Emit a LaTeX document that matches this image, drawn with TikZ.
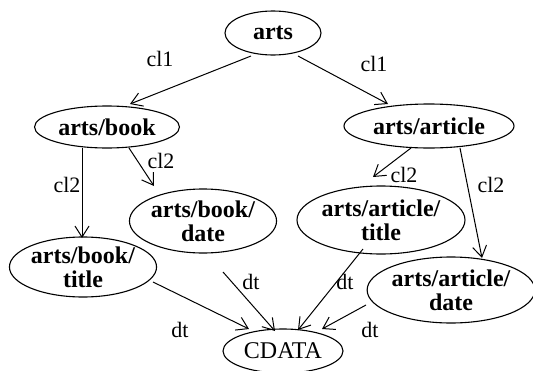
\documentclass[tikz,border=0pt]{standalone}
\usepackage{fontspec}
\setmainfont{Liberation Serif}
\usetikzlibrary{shapes.geometric,arrows.meta}
\begin{document}
\begin{tikzpicture}[x=1pt,y=-1pt,
  nd/.style={draw, ellipse, line width=1.1pt, inner sep=0pt, outer sep=0pt, align=center,
    font=\fontsize{24}{24}\selectfont\bfseries},
  cd/.style={draw, ellipse, line width=1.1pt, inner sep=0pt, outer sep=0pt,
    font=\fontsize{24}{24}\selectfont},
  lbl/.style={font=\fontsize{22}{22}\selectfont, inner sep=0pt},
  arr/.style={line width=1pt, -{Straight Barb[length=11pt,width=14pt,line width=1pt]}}]
\useasboundingbox (0,0) rectangle (533,370);
% nodes
\node[nd, minimum width=96pt, minimum height=44pt] (arts) at (273,33) {arts};
\node[nd, minimum width=145pt, minimum height=42pt] (book) at (107,127) {arts/book};
\node[nd, minimum width=170pt, minimum height=44pt] (article) at (429,126) {arts/article};
\node[nd, minimum width=144pt, minimum height=64pt] (bdate) at (203,221) {arts/book/\\date};
\node[nd, minimum width=144pt, minimum height=60pt] (btitle) at (83,267) {arts/book/\\title};
\node[nd, minimum width=168pt, minimum height=68pt] (atitle) at (381,220) {arts/article/\\title};
\node[nd, minimum width=166pt, minimum height=66pt] (adate) at (451,290) {arts/article/\\date};
\node[cd, minimum width=120pt, minimum height=44pt] (cdata) at (283,351) {CDATA};
% edges
\draw[arr] ([shift={(-22,23)}]arts.center) -- ([shift={(23,-23)}]book.center);
\draw[arr] ([shift={(25,23)}]arts.center) -- ([shift={(-41,-22)}]article.center);
\draw[arr] ([shift={(-25,21)}]book.center) -- ([shift={(-1,-29)}]btitle.center);
\draw[arr] ([shift={(22,21)}]book.center) -- ([shift={(-49,-35)}]bdate.center);
\draw[arr] ([shift={(-18,22)}]article.center) -- ([shift={(-8,-43)}]atitle.center);
\draw[arr] ([shift={(31,22)}]article.center) -- ([shift={(31,-32)}]adate.center);
\draw[arr] ([shift={(70,15)}]btitle.center) -- ([shift={(-34,-22)}]cdata.center);
\draw[arr] ([shift={(20,51)}]bdate.center) -- ([shift={(-8,-20)}]cdata.center);
\draw[arr] ([shift={(-18,29)}]atitle.center) -- ([shift={(15,-21)}]cdata.center);
\draw[arr] ([shift={(-85,15)}]adate.center) -- ([shift={(39,-22)}]cdata.center);
% labels
\node[lbl] (l1) at (160,59) {cl1};
\node[lbl] (l2) at (374,64) {cl1};
\node[lbl] (l3) at (67,185) {cl2};
\node[lbl] (l4) at (161,161) {cl2};
\node[lbl] (l5) at (404,175) {cl2};
\node[lbl] (l6) at (491,185) {cl2};
\node[lbl] (l7) at (180,330) {dt};
\node[lbl] (l8) at (251,282) {dt};
\node[lbl] (l9) at (345,282) {dt};
\node[lbl] (l10) at (370,330) {dt};
\end{tikzpicture}
\end{document}
